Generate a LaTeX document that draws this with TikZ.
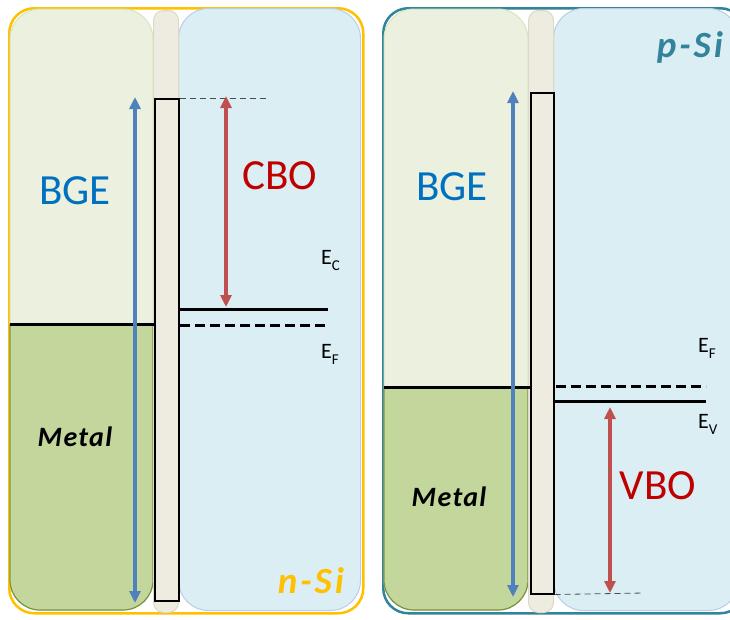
\documentclass[tikz,border=0pt]{standalone}
\usepackage{fontspec}
\setmainfont{Carlito}
\usetikzlibrary{arrows.meta}
\definecolor{gold}{HTML}{FFC000}
\definecolor{teal2}{HTML}{31849B}
\definecolor{gtop}{HTML}{EBF1DE}
\definecolor{gbot}{HTML}{C3D69B}
\definecolor{gline}{HTML}{D7E4BD}
\definecolor{oline}{HTML}{77933C}
\definecolor{lblue}{HTML}{DBEEF4}
\definecolor{bline}{HTML}{B9CDE5}
\definecolor{beige}{HTML}{EEECE1}
\definecolor{beigel}{HTML}{DDD9C3}
\definecolor{arrblue}{HTML}{4F81BD}
\definecolor{arrred}{HTML}{C0504D}
\definecolor{txtblue}{HTML}{0070C0}
\definecolor{txtred}{HTML}{C00000}
\newcommand{\elev}[1]{E\raisebox{-6pt}{\fontsize{15}{15}\selectfont #1}}
\tikzset{
  big/.style={font=\fontsize{43}{43}\selectfont, inner sep=0pt},
  lev/.style={font=\fontsize{22}{22}\selectfont, inner sep=0pt},
  metal/.style={font=\fontsize{28}{28}\selectfont\bfseries\itshape\addfontfeatures{LetterSpace=5}, inner sep=0pt},
  sil/.style={font=\fontsize{37}{37}\selectfont\bfseries\itshape\addfontfeatures{LetterSpace=8}, inner sep=0pt},
  barr/.style={draw=black, line width=1.5pt, fill=beige},
  solidlev/.style={line width=3pt},
  dashlev/.style={line width=3pt, dash pattern=on 10pt off 5pt},
  thindash/.style={line width=0.8pt, dash pattern=on 6pt off 4pt, black!70},
  bgearrow/.style={arrblue, line width=3.5pt, {Triangle[width=11pt,length=12pt]}-{Triangle[width=11pt,length=12pt]}},
  offarrow/.style={arrred, line width=3.5pt, {Triangle[width=11pt,length=12pt]}-{Triangle[width=11pt,length=12pt]}},
}
\begin{document}
\begin{tikzpicture}[x=1pt,y=-1pt]
\useasboundingbox (0,0) rectangle (730,619);
\clip (0,0) rectangle (730,619);
% ================= LEFT PANEL =================
\node[draw=gold, line width=2.5pt, rounded corners=25pt, minimum width=354pt, minimum height=605pt, anchor=north west, inner sep=0pt] (outerL) at (8,7) {};
% blue region
\node[fill=lblue, draw=bline, line width=1pt, rounded corners=30pt, minimum width=182pt, minimum height=602pt, anchor=north west, inner sep=0pt] (siL) at (178,8) {};
% green region
\begin{scope}
  \clip[rounded corners=30pt] (10,9) rectangle (153,610);
  \fill[gtop] (10,9) rectangle (153,324);
  \fill[gbot] (10,324) rectangle (153,610);
\end{scope}
\draw[gline, line width=1pt, rounded corners=30pt] (10,9) rectangle (153,610);
\begin{scope}
  \clip (0,324) rectangle (160,619);
  \draw[oline, line width=1.2pt, rounded corners=30pt] (10,9) rectangle (153,610);
\end{scope}
\node[minimum width=143pt, minimum height=601pt, anchor=north west, inner sep=0pt] (metL) at (10,9) {};
% pillar
\node[fill=beige, draw=beigel, line width=1pt, rounded corners=10pt, minimum width=25pt, minimum height=602pt, anchor=north west, inner sep=0pt] (pilL) at (153,10) {};
% barrier
\node[barr, minimum width=24pt, minimum height=502pt, anchor=north west, inner sep=0pt] (barL) at (154,98) {};
% levels
\coordinate (mlA) at (10,324);
\draw[solidlev] (mlA) -- (barL.west |- mlA);
\coordinate (ecA) at (178,309); \coordinate (ecB) at (328,309);
\draw[solidlev] (ecA) -- (ecB);
\coordinate (efA) at (180,325); \coordinate (efB) at (328,325);
\draw[dashlev] (efA) -- (efB);
\coordinate (tdB) at (268,98);
\draw[thindash] (barL.north east) -- (tdB);
% arrows
\coordinate (bgeT) at (135,97); \coordinate (bgeB) at (135,603);
\draw[bgearrow] (bgeT) -- (bgeB);
\coordinate (cboT) at (226,96); \coordinate (cboB) at (226,307);
\draw[offarrow] (cboT) -- (cboB);
% labels
\node[big, text=txtblue] (bgeL) at (75,191) {BGE};
\node[big, text=txtred] (cbo) at (280,176) {CBO};
\node[lev, anchor=base west] (ec) at (321,264) {\elev{C}};
\node[lev, anchor=base west] (ef) at (321,358) {\elev{F}};
\node[metal] (metalL) at (75,437) {Metal};
\node[sil, text=gold] (nsi) at (311,581) {n-Si};
% ================= RIGHT PANEL =================
\node[draw=teal2, line width=2.5pt, rounded corners=25pt, minimum width=362pt, minimum height=605pt, anchor=north west, inner sep=0pt] (outerR) at (382,7) {};
\node[fill=lblue, draw=bline, line width=1pt, rounded corners=30pt, minimum width=185pt, minimum height=602pt, anchor=north west, inner sep=0pt] (siR) at (553,8) {};
\begin{scope}
  \clip[rounded corners=30pt] (384,9) rectangle (528,610);
  \fill[gtop] (384,9) rectangle (528,387);
  \fill[gbot] (384,387) rectangle (528,610);
\end{scope}
\draw[gline, line width=1pt, rounded corners=30pt] (384,9) rectangle (528,610);
\begin{scope}
  \clip (370,387) rectangle (535,619);
  \draw[oline, line width=1.2pt, rounded corners=30pt] (384,9) rectangle (528,610);
\end{scope}
\node[minimum width=144pt, minimum height=601pt, anchor=north west, inner sep=0pt] (metR) at (384,9) {};
\node[fill=beige, draw=beigel, line width=1pt, rounded corners=10pt, minimum width=25pt, minimum height=602pt, anchor=north west, inner sep=0pt] (pilR) at (528,10) {};
\node[barr, minimum width=23pt, minimum height=501pt, anchor=north west, inner sep=0pt] (barR) at (530,92) {};
% levels
\coordinate (mlC) at (384,387);
\draw[solidlev] (mlC) -- (barR.west |- mlC);
\coordinate (efC) at (556,386); \coordinate (efD) at (706,386);
\draw[dashlev] (efC) -- (efD);
\coordinate (evC) at (555,401); \coordinate (evD) at (706,401);
\draw[solidlev] (evC) -- (evD);
\coordinate (tdD) at (644,593);
\draw[thindash] (barR.south east) -- (tdD);
% arrows
\coordinate (bgeT2) at (513,91); \coordinate (bgeB2) at (513,597);
\draw[bgearrow] (bgeT2) -- (bgeB2);
\coordinate (vboT) at (610,407); \coordinate (vboB) at (610,593);
\draw[offarrow] (vboT) -- (vboB);
% labels
\node[big, text=txtblue] (bgeR) at (452,187) {BGE};
\node[big, text=txtred] (vbo) at (658,486) {VBO};
\node[lev, anchor=base west] (ef2) at (698,352) {\elev{F}};
\node[lev, anchor=base west] (ev) at (698,428) {\elev{V}};
\node[metal] (metalR) at (449,497) {Metal};
\node[sil, text=teal2] (psi) at (690,47) {p-Si};
\end{tikzpicture}
\end{document}
